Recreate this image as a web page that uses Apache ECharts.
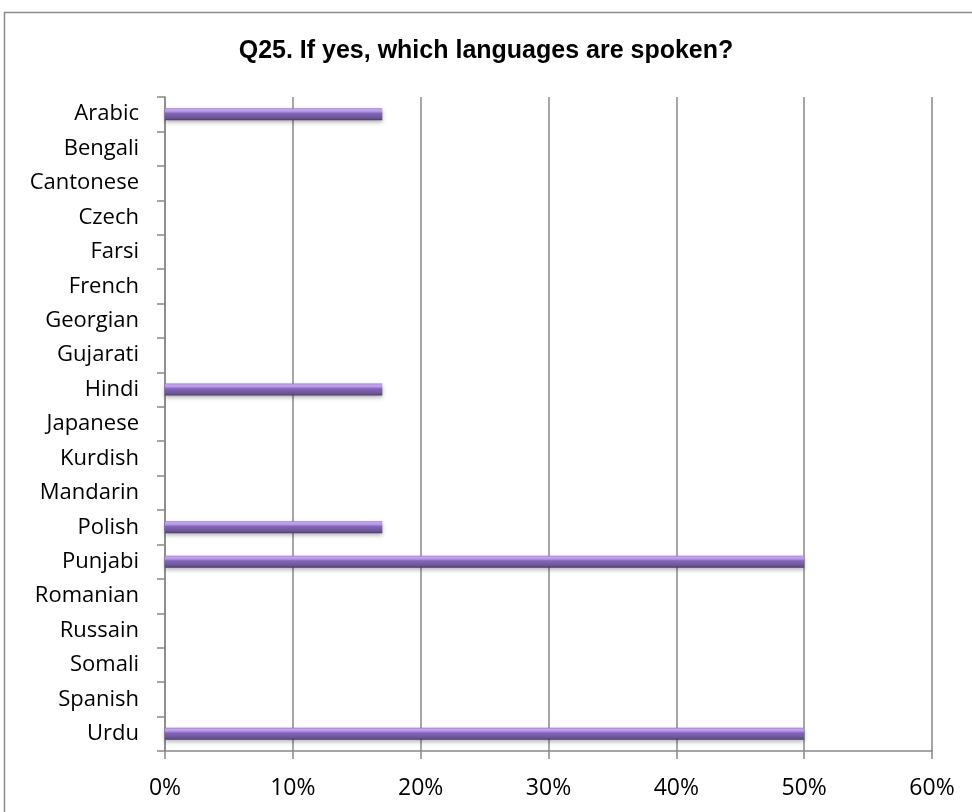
<!DOCTYPE html>
<html>
<head>
<meta charset="utf-8">
<style>
  html, body { margin: 0; padding: 0; background: #fff; }
  #chart { width: 972px; height: 812px; }
</style>
<script src="https://cdn.jsdelivr.net/npm/echarts@6/dist/echarts.min.js"></script>
</head>
<body>
<div id="chart"></div>
<script>
// Languages spoken (survey question 25), share of respondents in %
const languages = ['Arabic', 'Bengali', 'Cantonese', 'Czech', 'Farsi', 'French', 'Georgian',
  'Gujarati', 'Hindi', 'Japanese', 'Kurdish', 'Mandarin', 'Polish', 'Punjabi', 'Romanian',
  'Russain', 'Somali', 'Spanish', 'Urdu'];
const shares = [17, 0, 0, 0, 0, 0, 0, 0, 17, 0, 0, 0, 17, 50, 0, 0, 0, 0, 50];
const axisTicks = [0, 10, 20, 30, 40, 50, 60];

const chart = echarts.init(document.getElementById('chart'), null, { renderer: 'canvas' });

// bevelled purple look for the bars: light upper edge, darker lower body
const barFill = new echarts.graphic.LinearGradient(0, 0, 0, 1, [
  { offset: 0, color: '#9377c6' },
  { offset: 0.12, color: '#c7a8f2' },
  { offset: 0.3, color: '#b08fe0' },
  { offset: 0.42, color: '#8466b8' },
  { offset: 0.85, color: '#6a5296' },
  { offset: 1, color: '#46376a' }
]);

chart.setOption({
  animation: false,
  graphic: [{
    type: 'rect',
    shape: { x: 4.5, y: 12.5, width: 1000, height: 900 },
    style: { fill: 'none', stroke: '#8c8c8c', lineWidth: 1.5 },
    silent: true
  }],
  title: {
    text: 'Q25. If yes, which languages are spoken?',
    left: 'center',
    top: 34,
    textStyle: { fontFamily: 'Liberation Sans, Arial', fontWeight: 'bold', fontSize: 25, color: '#000' }
  },
  grid: { left: 165, right: 40, top: 97, bottom: 61 },
  xAxis: {
    type: 'value',
    min: axisTicks[0],
    max: axisTicks[axisTicks.length - 1],
    interval: 10,
    axisLine: { show: true, lineStyle: { color: '#888', width: 1.5 } },
    axisTick: { show: true, length: 8, lineStyle: { color: '#888', width: 1.5 } },
    splitLine: { show: true, lineStyle: { color: '#888', width: 1.5 } },
    axisLabel: {
      formatter: v => v + '%',
      margin: 26,
      fontFamily: 'Open Sans, Liberation Sans',
      fontSize: 23,
      color: '#000'
    }
  },
  yAxis: {
    type: 'category',
    data: languages,
    inverse: true,
    axisLine: { show: true, lineStyle: { color: '#888', width: 1.5 } },
    axisTick: { show: true, length: 8, lineStyle: { color: '#888', width: 1.5 } },
    axisLabel: {
      margin: 26,
      fontFamily: 'Open Sans, Liberation Sans',
      fontSize: 22,
      color: '#000'
    }
  },
  series: [{
    type: 'bar',
    data: shares,
    barWidth: 12,
    itemStyle: {
      color: barFill,
      borderWidth: 0,
      shadowColor: 'rgba(0,0,0,0.3)',
      shadowBlur: 4,
      shadowOffsetY: 2
    }
  }]
});
</script>
</body>
</html>
